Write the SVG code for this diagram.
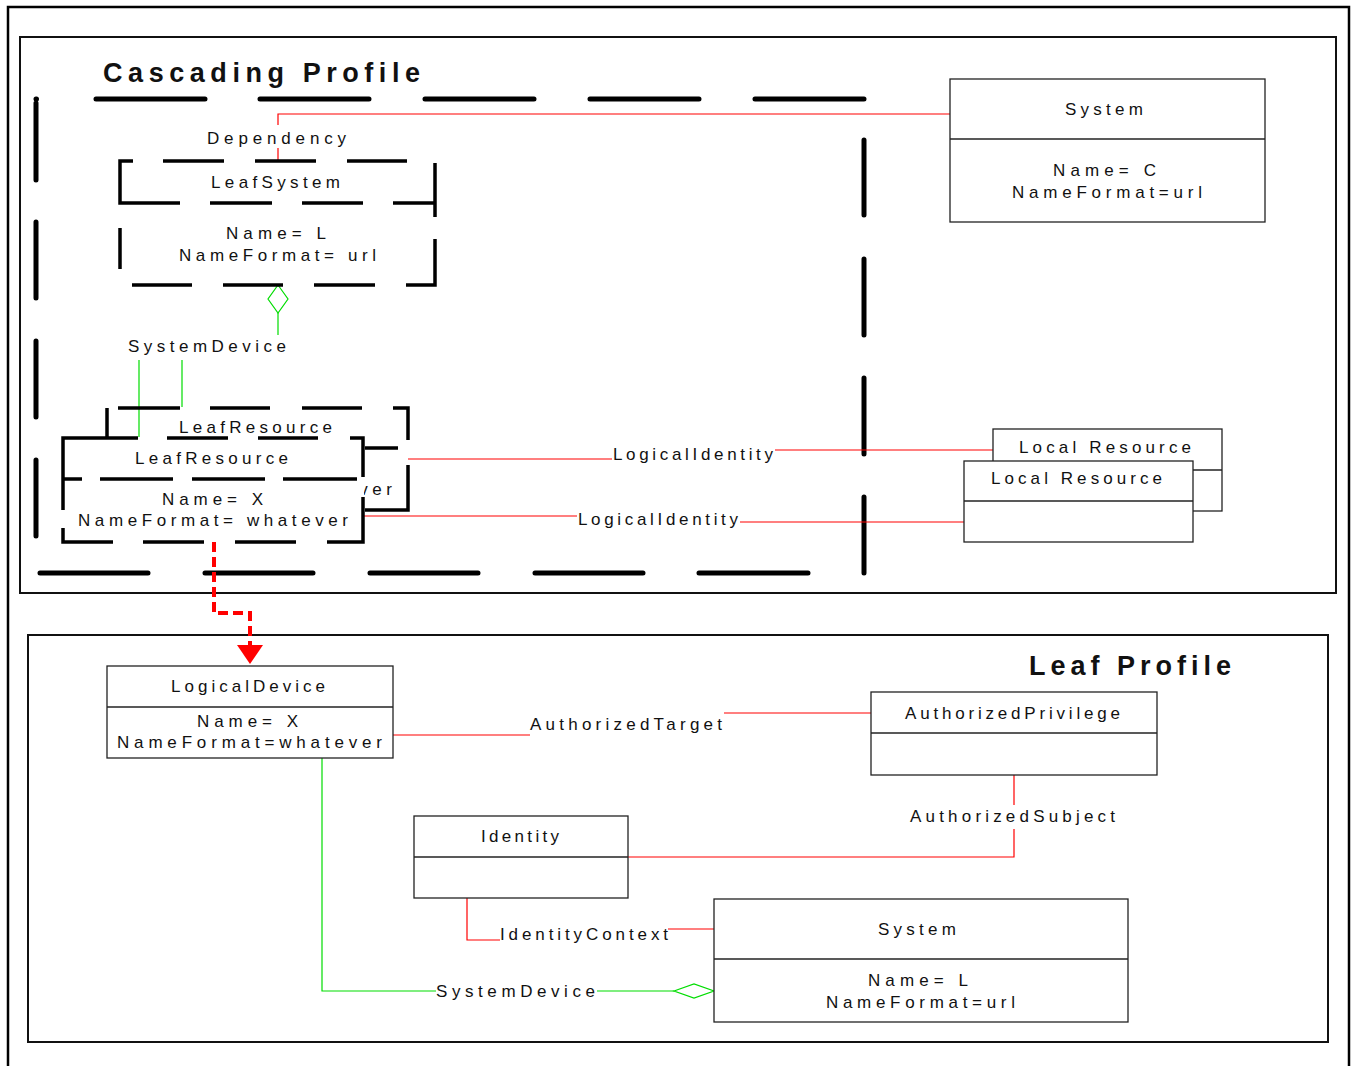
<svg xmlns="http://www.w3.org/2000/svg" width="1353" height="1066" viewBox="0 0 1353 1066">
<style>
.t{font-family:"Liberation Sans",Arial,sans-serif;font-size:17px;fill:#111}
.ti{font-family:"Liberation Sans",Arial,sans-serif;font-size:27px;font-weight:bold;fill:#111}
.box{fill:#fff;stroke:#222;stroke-width:1.3}
.div{stroke:#222;stroke-width:1.3}
.frame{fill:none;stroke:#111;stroke-width:2}
.pkg{fill:none;stroke:#000;stroke-width:5;stroke-linecap:round}
.dsh{fill:none;stroke:#000;stroke-width:3.5;stroke-linecap:butt}
.red{fill:none;stroke:#f00;stroke-width:1.2}
.grn{fill:none;stroke:#0d0;stroke-width:1.2}
</style>
<defs>
<clipPath id="backclip"><rect x="364" y="400" width="60" height="120"/></clipPath>
</defs>
<rect width="1353" height="1066" fill="#fff"/>
<rect x="8" y="7" width="1341" height="1070" fill="none" stroke="#000" stroke-width="2.5"/>
<rect class="frame" x="20" y="37" width="1316" height="556"/>
<rect class="frame" x="28" y="635" width="1300" height="407"/>
<text class="ti" x="103" y="82" textLength="317" lengthAdjust="spacing">Cascading Profile</text>
<text class="ti" x="1029" y="675" textLength="202" lengthAdjust="spacing">Leaf Profile</text>
<g id="cascading-package">
<path class="pkg" d="M36,99h0.5 M96,99H205 M260,99H369 M425,99H534 M590,99H699 M755,99H864 M36,103V180 M36,222V298 M36,341V417 M36,460V536 M864,140V215 M864,259V335 M864,378V454 M864,497V573 M40,573H148 M205,573H313 M370,573H478 M535,573H643 M699,573H808"/>
</g>
<g id="connectors">
<path class="red" d="M278,161V148 M278,125V114H950"/>
<path class="red" d="M408,459H612 M775,450H993"/>
<path class="red" d="M363,516H577 M740,522H964"/>
<path class="red" d="M393,735H530 M724,713H871"/>
<path class="red" d="M1014,775V805 M1014,829V857H628"/>
<path class="red" d="M467,898V940H500 M668,929H714"/>
<path class="grn" d="M278,313V335 M139,360V437 M182,360V407"/>
<polygon points="278,285 288,299 278,313 268,299" fill="#fff" stroke="#0d0" stroke-width="1.2"/>
<path class="grn" d="M322,758V991H436 M597,991H674"/>
<polygon points="674,991 694,984 714,991 694,998" fill="#fff" stroke="#0d0" stroke-width="1.2"/>
<path d="M214,542V613H250V645" fill="none" stroke="#f00" stroke-width="4" stroke-dasharray="10 5"/>
<polygon points="237,645 263,645 250,664" fill="#f00"/>
<text class="t" x="207" y="144" textLength="139" lengthAdjust="spacing">Dependency</text>
<text class="t" x="128" y="352" textLength="158" lengthAdjust="spacing">SystemDevice</text>
<text class="t" x="613" y="460" textLength="160" lengthAdjust="spacing">LogicalIdentity</text>
<text class="t" x="578" y="525" textLength="160" lengthAdjust="spacing">LogicalIdentity</text>
<text class="t" x="530" y="730" textLength="192" lengthAdjust="spacing">AuthorizedTarget</text>
<text class="t" x="910" y="822" textLength="205" lengthAdjust="spacing">AuthorizedSubject</text>
<text class="t" x="500" y="940" textLength="168" lengthAdjust="spacing">IdentityContext</text>
<text class="t" x="436" y="997" textLength="159" lengthAdjust="spacing">SystemDevice</text>
</g>
<g id="leafsystem">
<path class="dsh" d="M133,161H120V203H180 M163,161H224 M255,161H316 M347,161H407 M435,163V217 M435,239V285H406 M120,228V269 M210,203H272 M302,203H363 M393,203H435 M132,285H192 M223,285H283 M314,285H375"/>
<text class="t" x="211" y="188" textLength="129" lengthAdjust="spacing">LeafSystem</text>
<text class="t" x="226" y="239" textLength="100" lengthAdjust="spacing">Name= L</text>
<text class="t" x="179" y="261" textLength="197" lengthAdjust="spacing">NameFormat= url</text>
</g>
<g id="system-top">
<rect class="box" x="950" y="79" width="315" height="143"/>
<line class="div" x1="950" y1="139" x2="1265" y2="139"/>
<text class="t" x="1065" y="115" textLength="78" lengthAdjust="spacing">System</text>
<text class="t" x="1053" y="176" textLength="103" lengthAdjust="spacing">Name= C</text>
<text class="t" x="1012" y="198" textLength="190" lengthAdjust="spacing">NameFormat=url</text>
</g>
<g id="leafresource-back">
<path class="dsh" d="M107,438V408 M118,408H180 M210,408H270 M302,408H362 M393,408H408V440 M408,465V510H365 M365,448H398"/>
<text class="t" x="179" y="433" textLength="153" lengthAdjust="spacing">LeafResource</text>
<g clip-path="url(#backclip)">
<text class="t" x="122" y="495" textLength="270" lengthAdjust="spacing">NameFormat= whatever</text>
</g>
</g>
<g id="leafresource-front">
<rect x="63" y="438" width="300" height="104" fill="#fff"/>
<path class="dsh" d="M63,510V438H138 M167,438H228 M258,438H318 M350,438H363V477 M363,497V542H327 M296,542H235 M204,542H143 M113,542H63V528 M63,479H82 M100,479H173 M192,479H265 M283,479H357"/>
<text class="t" x="135" y="464" textLength="153" lengthAdjust="spacing">LeafResource</text>
<text class="t" x="162" y="505" textLength="101" lengthAdjust="spacing">Name= X</text>
<text class="t" x="78" y="526" textLength="270" lengthAdjust="spacing">NameFormat= whatever</text>
</g>
<g id="localresource-back">
<rect class="box" x="993" y="429" width="229" height="82"/>
<line class="div" x1="993" y1="470" x2="1222" y2="470"/>
<text class="t" x="1019" y="453" textLength="172" lengthAdjust="spacing">Local Resource</text>
</g>
<g id="localresource-front">
<rect class="box" x="964" y="461" width="229" height="81"/>
<line class="div" x1="964" y1="501" x2="1193" y2="501"/>
<text class="t" x="991" y="484" textLength="171" lengthAdjust="spacing">Local Resource</text>
</g>
<g id="logicaldevice">
<rect class="box" x="107" y="666" width="286" height="92"/>
<line class="div" x1="107" y1="707" x2="393" y2="707"/>
<text class="t" x="171" y="692" textLength="154" lengthAdjust="spacing">LogicalDevice</text>
<text class="t" x="197" y="727" textLength="101" lengthAdjust="spacing">Name= X</text>
<text class="t" x="117" y="748" textLength="265" lengthAdjust="spacing">NameFormat=whatever</text>
</g>
<g id="authorizedprivilege">
<rect class="box" x="871" y="692" width="286" height="83"/>
<line class="div" x1="871" y1="733" x2="1157" y2="733"/>
<text class="t" x="905" y="719" textLength="215" lengthAdjust="spacing">AuthorizedPrivilege</text>
</g>
<g id="identity">
<rect class="box" x="414" y="816" width="214" height="82"/>
<line class="div" x1="414" y1="857" x2="628" y2="857"/>
<text class="t" x="481" y="842" textLength="78" lengthAdjust="spacing">Identity</text>
</g>
<g id="system-bottom">
<rect class="box" x="714" y="899" width="414" height="123"/>
<line class="div" x1="714" y1="959" x2="1128" y2="959"/>
<text class="t" x="878" y="935" textLength="78" lengthAdjust="spacing">System</text>
<text class="t" x="868" y="986" textLength="100" lengthAdjust="spacing">Name= L</text>
<text class="t" x="826" y="1008" textLength="189" lengthAdjust="spacing">NameFormat=url</text>
</g>
</svg>
